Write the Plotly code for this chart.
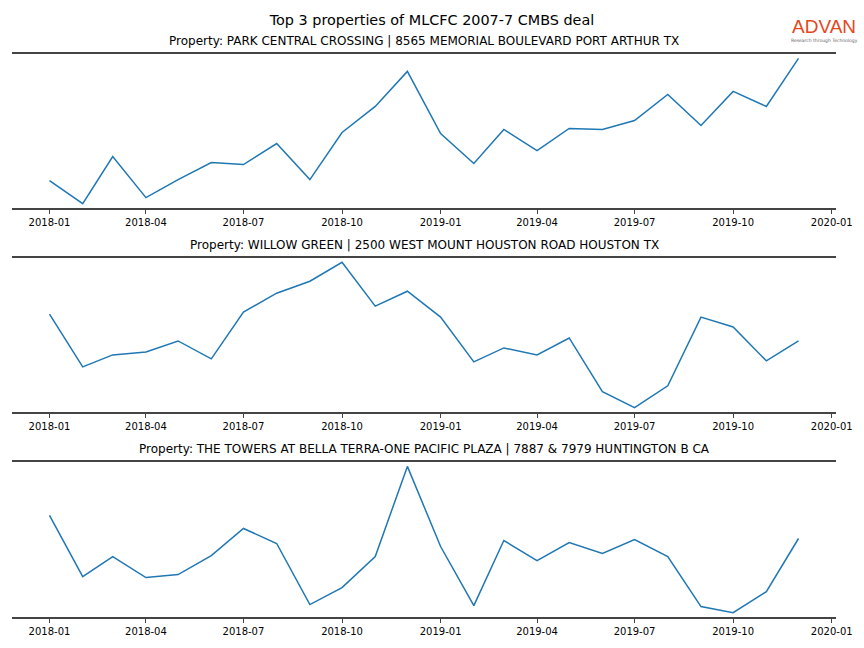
import plotly.graph_objects as go
from plotly.subplots import make_subplots

months = ["2018-01-01", "2018-02-01", "2018-03-01", "2018-04-01", "2018-05-01", "2018-06-01",
          "2018-07-01", "2018-08-01", "2018-09-01", "2018-10-01", "2018-11-01", "2018-12-01",
          "2019-01-01", "2019-02-01", "2019-03-01", "2019-04-01", "2019-05-01", "2019-06-01",
          "2019-07-01", "2019-08-01", "2019-09-01", "2019-10-01", "2019-11-01", "2019-12-01"]

park_central = [27, 4, 51, 10, 28, 45, 43, 64, 28, 75, 101, 136,
                74, 44, 78, 57, 79, 78, 87, 113, 82, 116, 101, 149]
willow_green = [97, 44, 56, 59, 70, 52, 99, 118, 130, 149, 105, 120,
                94, 49, 63, 56, 73, 19, 3, 25, 94, 84, 50, 70]
towers_bella = [101, 40, 60, 39, 42, 61, 88, 73, 12, 29, 60, 150,
                70, 11, 76, 56, 74, 63, 77, 60, 10, 4, 25, 78]

titles = [
    "Property: PARK CENTRAL CROSSING | 8565 MEMORIAL BOULEVARD PORT ARTHUR TX",
    "Property: WILLOW GREEN | 2500 WEST MOUNT HOUSTON ROAD HOUSTON TX",
    "Property: THE TOWERS AT BELLA TERRA-ONE PACIFIC PLAZA | 7887 & 7979 HUNTINGTON B CA",
]
tick_vals = ["2018-01-01", "2018-04-01", "2018-07-01", "2018-10-01", "2019-01-01",
             "2019-04-01", "2019-07-01", "2019-10-01", "2020-01-01"]
tick_text = ["2018-01", "2018-04", "2018-07", "2018-10", "2019-01",
             "2019-04", "2019-07", "2019-10", "2020-01"]

series = [park_central, willow_green, towers_bella]

fig = make_subplots(rows=3, cols=1, vertical_spacing=0.0888)
domains = [[0.7265, 1.0], [0.3641, 0.6377], [0.0, 0.2753]]

font = "DejaVu Sans"
for i, (vals, title) in enumerate(zip(series, titles)):
    r = i + 1
    fig.add_trace(go.Scatter(x=months, y=vals, mode="lines",
                             line=dict(color="#1f77b4", width=1.5),
                             showlegend=False), row=r, col=1)
    lo, hi = min(vals), max(vals)
    pad = 0.03 * (hi - lo)
    fig.update_yaxes(range=[lo - pad, hi + pad], visible=False, showgrid=False,
                     domain=domains[i], row=r, col=1)
    fig.update_xaxes(range=["2017-11-27", "2020-01-05"], tickvals=tick_vals, ticktext=tick_text,
                     showgrid=False, zeroline=False, showline=True, mirror=True,
                     linecolor="#444444", linewidth=2, ticks="outside", ticklen=4,
                     tickcolor="#444444", tickwidth=1,
                     tickfont=dict(family=font, size=10, color="black"),
                     row=r, col=1)
    fig.add_annotation(text=title, xref="paper", yref="paper", x=0.5,
                       y=domains[i][1], yanchor="bottom", yshift=4, showarrow=False,
                       font=dict(family=font, size=12, color="black"))

fig.add_annotation(text="ADVAN", xref="paper", yref="paper", x=0.986, y=1.0,
                   xanchor="center", yanchor="middle", yshift=28, showarrow=False,
                   font=dict(family="Liberation Sans", size=19, color="#e5461c"))
fig.add_annotation(text="Research through Technology", xref="paper", yref="paper", x=0.986, y=1.0,
                   xanchor="center", yanchor="middle", yshift=14, showarrow=False,
                   font=dict(family=font, size=4.5, color="#666666"))

fig.update_layout(
    width=864, height=648,
    margin=dict(l=12, r=28, t=54, b=31),
    paper_bgcolor="white", plot_bgcolor="white",
    title=dict(text="Top 3 properties of MLCFC 2007-7 CMBS deal", x=0.5, xanchor="center",
               y=1 - 20 / 648, yanchor="middle",
               font=dict(family=font, size=14.4, color="black")),
)

fig.write_html("out.html", config={"displayModeBar": False},
               post_script="document.body.style.margin='0';document.body.style.overflow='hidden';")
